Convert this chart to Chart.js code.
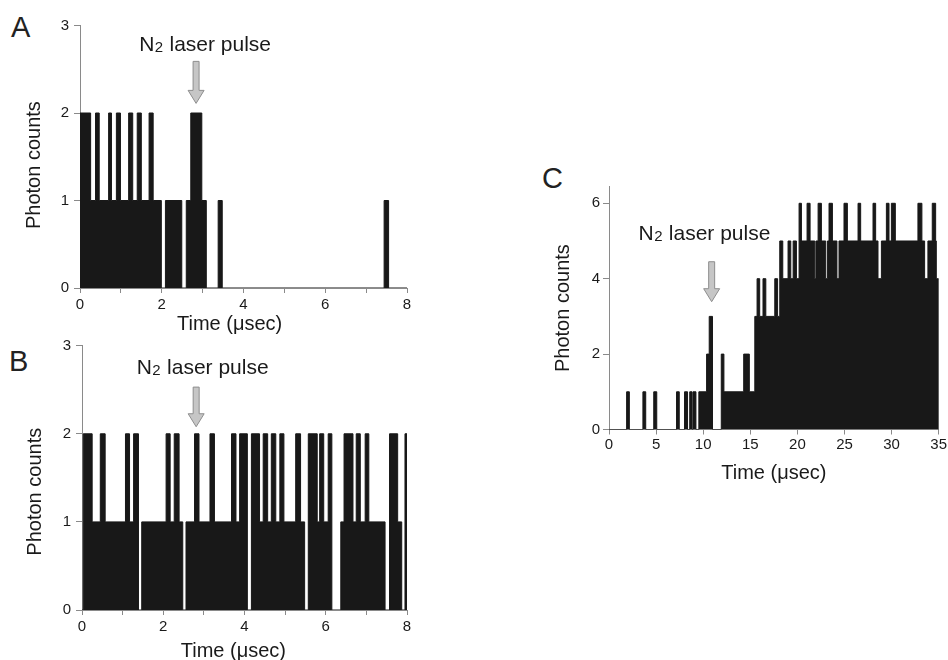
<!DOCTYPE html>
<html>
<head>
<meta charset="utf-8">
<script src="https://cdn.jsdelivr.net/npm/chart.js@4/dist/chart.umd.min.js"></script>
<style>
  html, body { margin: 0; padding: 0; background: #ffffff; width: 948px; height: 660px; overflow: hidden; }
  canvas { position: absolute; left: 0; top: 0; }
  .panel { position: absolute; font-family: "Liberation Sans", Arial, sans-serif; font-size: 29px; line-height: 1; color: #222; }
</style>
</head>
<body>
<div class="panel" style="left:11px; top:13px;">A</div>
<div class="panel" style="left:9px; top:347px;">B</div>
<div class="panel" style="left:542px; top:164px;">C</div>
<canvas id="chartA" width="948" height="700"></canvas>
<canvas id="chartB" width="948" height="700"></canvas>
<canvas id="chartC" width="948" height="700"></canvas>
<script>
// ---------- DATA (step histograms: each count holds from its start time until the next start) ----------
// Panel A
const timesA  = [0, 0.26, 0.38, 0.47, 0.70, 0.77, 0.89, 0.99, 1.19, 1.29, 1.40, 1.50, 1.69, 1.79, 1.99, 2.09, 2.49, 2.60, 2.71, 2.98, 3.09, 3.38, 3.48, 7.44, 7.55, 8.0];
const countsA = [2, 1,    2,    1,    2,    1,    2,    1,    2,    1,    2,    1,    2,    1,    0,    1,    0,    1,    2,    1,    0,    1,    0,    1,    0,    0];
// Panel B
const timesB  = [0, 0.03, 0.25, 0.45, 0.57, 1.07, 1.17, 1.27, 1.39, 1.47, 2.07, 2.17, 2.27, 2.39, 2.48, 2.56, 2.77, 2.88, 3.15, 3.26, 3.68, 3.79, 3.88, 4.07, 4.17, 4.37, 4.46, 4.57, 4.66, 4.77, 4.87, 4.97, 5.26, 5.38, 5.48, 5.57, 5.79, 5.85, 5.95, 6.06, 6.15, 6.37, 6.45, 6.67, 6.75, 6.85, 6.97, 7.06, 7.46, 7.57, 7.77, 7.87, 7.95, 8.0];
const countsB = [0, 2,    1,    2,    1,    2,    1,    2,    0,    1,    2,    1,    2,    1,    0,    1,    2,    1,    2,    1,    2,    1,    2,    0,    2,    1,    2,    1,    2,    1,    2,    1,    2,    1,    0,    2,    1,    2,    1,    2,    0,    1,    2,    1,    2,    1,    2,    1,    0,    2,    1,    0,    2,    0];
// Panel C
const timesC  = [0, 1.87, 2.16, 3.60, 3.90, 4.75, 5.07, 7.17, 7.46, 8.02, 8.34, 8.57, 8.82, 8.92, 9.23, 9.54, 10.36, 10.64, 10.99, 11.92, 12.20, 14.30, 14.90, 15.48, 15.72, 16.00, 16.35, 16.65, 17.60, 17.90, 18.13, 18.45, 19.01, 19.30, 19.55, 19.90, 20.18, 20.43, 21.03, 21.35, 21.85, 21.97, 22.20, 22.55, 23.01, 23.19, 23.36, 23.72, 24.20, 24.42, 24.95, 25.31, 26.44, 26.72, 28.03, 28.31, 28.56, 28.92, 29.45, 29.73, 29.98, 30.40, 32.80, 33.22, 33.51, 33.86, 34.32, 34.68, 34.75, 35.0];
const countsC = [0, 1,    0,    1,    0,    1,    0,    1,    0,    1,    0,    1,    0,    1,    0,    1,    2,     3,     0,     2,     1,     2,     1,     3,     4,     3,     4,     3,     4,     3,     5,     4,     5,     4,     5,     4,     6,     5,     6,     5,     4,     5,     6,     5,     4,     5,     6,     5,     4,     5,     6,     5,     6,     5,     6,     5,     4,     5,     6,     5,     6,     5,     6,     5,     4,     5,     6,     5,     4,     0];

// Axis ticks and labels
const xTicksAB  = [0, 1, 2, 3, 4, 5, 6, 7, 8];
const xLabelsAB = ['0', '', '2', '', '4', '', '6', '', '8'];
const yTicksAB  = [0, 1, 2, 3];
const yLabelsAB = ['0', '1', '2', '3'];
const xTicksC   = [0, 5, 10, 15, 20, 25, 30, 35];
const xLabelsC  = ['0', '5', '10', '15', '20', '25', '30', '35'];
const yTicksC   = [0, 2, 4, 6];
const yLabelsC  = ['0', '2', '4', '6'];

const yTitle = 'Photon counts';
const xTitle = 'Time (\u03bcsec)';
const noteMain = 'N';
const noteSub = '2';
const noteRest = ' laser pulse';

// ---------- STYLE ----------
const FONT = '"Liberation Sans", Arial, Helvetica, sans-serif';
const FILL = '#181818';
const AXIS = '#8a8a8a';
const TEXT = '#1a1a1a';

const laserNote = {
  id: 'laserNote',
  afterDraw(chart, args, o) {
    if (!o || o.arrowT === undefined) return;
    const ctx = chart.ctx, xs = chart.scales.x, ys = chart.scales.y;
    const ax = xs.getPixelForValue(o.arrowT);
    const top = ys.getPixelForValue(o.arrowTop);
    const tip = ys.getPixelForValue(o.arrowTip);
    const sw = 3, hw = 8, hl = 13;
    ctx.save();
    ctx.beginPath();
    ctx.moveTo(ax - sw, top);
    ctx.lineTo(ax + sw, top);
    ctx.lineTo(ax + sw, tip - hl);
    ctx.lineTo(ax + hw, tip - hl);
    ctx.lineTo(ax, tip);
    ctx.lineTo(ax - hw, tip - hl);
    ctx.lineTo(ax - sw, tip - hl);
    ctx.closePath();
    ctx.fillStyle = '#c6c6c6';
    ctx.fill();
    ctx.lineWidth = 1;
    ctx.strokeStyle = '#8e8e8e';
    ctx.stroke();
    // text
    const tx = xs.getPixelForValue(o.textT);
    const ty = ys.getPixelForValue(o.textY);
    ctx.fillStyle = TEXT;
    ctx.textBaseline = 'alphabetic';
    ctx.textAlign = 'left';
    const big = '21px ' + FONT, small = '15px ' + FONT;
    ctx.font = big; const w1 = ctx.measureText(noteMain).width; const w3 = ctx.measureText(noteRest).width;
    ctx.font = small; const w2 = ctx.measureText(noteSub).width + 1;
    let x = tx - (w1 + w2 + w3) / 2;
    ctx.font = big; ctx.fillText(noteMain, x, ty); x += w1 + 0.5;
    ctx.font = small; ctx.fillText(noteSub, x, ty + 1); x += w2 - 0.5;
    ctx.font = big; ctx.fillText(noteRest, x, ty);
    ctx.restore();
  }
};

function makeChart(id, p) {
  const data = p.times.map((t, i) => ({ x: t, y: p.counts[i] }));
  return new Chart(document.getElementById(id), {
    type: 'line',
    data: { datasets: [{
      data: data,
      stepped: true,
      fill: 'origin',
      backgroundColor: FILL,
      borderColor: FILL,
      borderWidth: 1,
      pointRadius: 0,
      tension: 0
    }]},
    plugins: [laserNote],
    options: {
      responsive: false,
      animation: false,
      devicePixelRatio: 1,
      events: [],
      layout: { padding: p.pad },
      plugins: {
        legend: { display: false },
        tooltip: { enabled: false },
        laserNote: p.note
      },
      scales: {
        x: {
          type: 'linear',
          min: 0, max: p.xMax,
          afterFit(s) { s.height = p.xH; },
          afterBuildTicks(s) { s.ticks = p.xTicks.map(v => ({ value: v })); },
          ticks: {
            autoSkip: false, maxRotation: 0, padding: p.xTickPad,
            font: { family: FONT, size: 15 }, color: TEXT,
            callback: (v, i) => p.xLabels[i]
          },
          grid: { drawOnChartArea: false, drawTicks: true, tickLength: 5, color: AXIS },
          border: { display: true, color: AXIS, width: 1 },
          title: { display: true, text: p.xTitle, font: { family: FONT, size: 20 }, color: TEXT, padding: { top: 0, bottom: 0 } }
        },
        y: {
          min: 0, max: p.yMax,
          afterFit(s) { s.width = p.yW; },
          afterBuildTicks(s) { s.ticks = p.yTicks.map(v => ({ value: v })); },
          ticks: {
            padding: p.yTickPad,
            font: { family: FONT, size: 15 }, color: TEXT,
            callback: (v, i) => p.yLabels[i]
          },
          grid: { drawOnChartArea: false, drawTicks: true, tickLength: 6, color: AXIS },
          border: { display: true, color: AXIS, width: 1 },
          title: { display: true, text: p.yTitle, font: { family: FONT, size: 20 }, color: TEXT, padding: { top: p.yTitlePad, bottom: 0 } }
        }
      }
    }
  });
}

makeChart('chartA', {
  times: timesA, counts: countsA, xMax: 8, yMax: 3,
  xTicks: xTicksAB, xLabels: xLabelsAB, yTicks: yTicksAB, yLabels: yLabelsAB,
  pad: { left: 0, top: 25.5, right: 541, bottom: 364 },
  xH: 48, yW: 80, xTickPad: 3, yTickPad: 5, yTitlePad: 22.5,
  xTitle: xTitle + '     ', yTitle: yTitle + '   ',
  note: { arrowT: 2.84, arrowTop: 2.59, arrowTip: 2.11, textT: 3.06, textY: 2.71 }
});

makeChart('chartB', {
  times: timesB, counts: countsB, xMax: 8, yMax: 3,
  xTicks: xTicksAB, xLabels: xLabelsAB, yTicks: yTicksAB, yLabels: yLabelsAB,
  pad: { left: 0, top: 345.7, right: 541, bottom: 37 },
  xH: 53, yW: 82, xTickPad: 3, yTickPad: 5, yTitlePad: 23.5,
  xTitle: xTitle + '    ', yTitle: yTitle + '     ',
  note: { arrowT: 2.81, arrowTop: 2.53, arrowTip: 2.08, textT: 2.97, textY: 2.68 }
});

makeChart('chartC', {
  times: timesC, counts: countsC, xMax: 35, yMax: 6.44,
  xTicks: xTicksC, xLabels: xLabelsC, yTicks: yTicksC, yLabels: yLabelsC,
  pad: { left: 530, top: 186.7, right: 8.7, bottom: 214.5 },
  xH: 56, yW: 79, xTickPad: 1, yTickPad: 3, yTitlePad: 21,
  xTitle: xTitle, yTitle: yTitle,
  note: { arrowT: 10.9, arrowTop: 4.45, arrowTip: 3.39, textT: 10.13, textY: 5.03 }
});
</script>
</body>
</html>
